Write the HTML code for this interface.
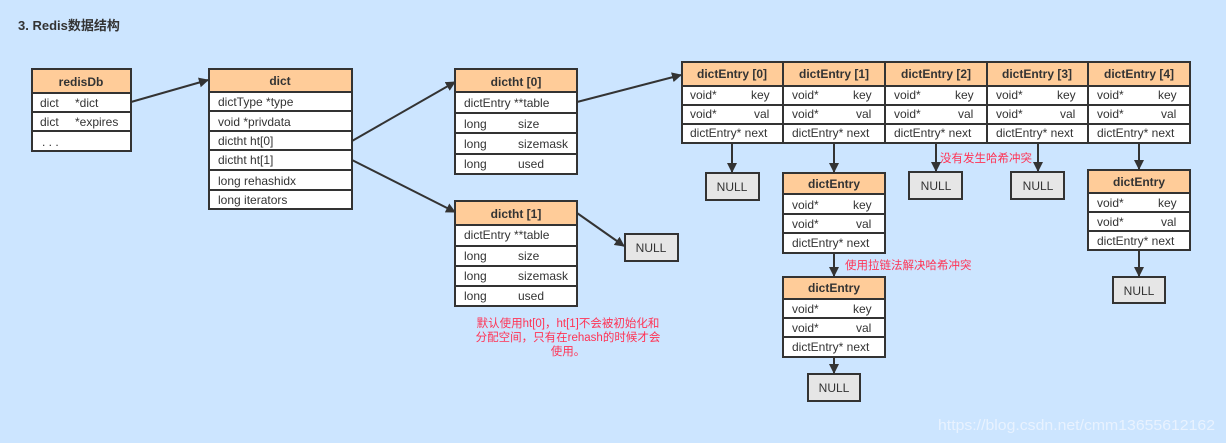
<!DOCTYPE html>
<html><head><meta charset="utf-8"><style>
html,body{margin:0;padding:0;background:#cce5ff;}
svg{display:block;font-family:"Liberation Sans","Noto Sans CJK SC",sans-serif;}
.b{fill:#fff;stroke:#333;stroke-width:2}
.h{fill:#ffcc99;stroke:#333;stroke-width:2}
.n{fill:#e6e6e6;stroke:#333;stroke-width:2}
.t{font-size:12px;fill:#333}
.hd{font-size:12px;font-weight:bold;fill:#333;text-anchor:middle}
.c{text-anchor:middle}
.l{stroke:#333;stroke-width:2;fill:none}
.r{fill:#ff3355;font-size:11.5px}
</style></head><body>
<svg width="1226" height="443" viewBox="0 0 1226 443">
<defs><marker id="a" markerWidth="10" markerHeight="10" refX="9" refY="5" orient="auto" markerUnits="userSpaceOnUse"><path d="M0,0 L10,5 L0,10 z" fill="#333"/></marker></defs>
<rect width="1226" height="443" fill="#cce5ff"/>
<text x="18" y="30" style="font-size:13px;font-weight:bold;fill:#333">3. Redis数据结构</text>

<!-- redisDb -->
<rect class="b" x="32" y="69" width="99" height="82"/>
<rect class="h" x="32" y="69" width="99" height="24"/>
<line class="l" x1="32" y1="112" x2="131" y2="112"/><line class="l" x1="32" y1="131" x2="131" y2="131"/>
<text class="hd" x="81" y="86">redisDb</text>
<text class="t" x="40" y="107">dict</text><text class="t" x="75" y="107">*dict</text>
<text class="t" x="40" y="126">dict</text><text class="t" x="75" y="126">*expires</text>
<text class="t" x="42" y="146">. . .</text>

<!-- dict -->
<rect class="b" x="209" y="69" width="143" height="140"/>
<rect class="h" x="209" y="69" width="143" height="23"/>
<line class="l" x1="209" y1="111" x2="352" y2="111"/><line class="l" x1="209" y1="131" x2="352" y2="131"/>
<line class="l" x1="209" y1="150" x2="352" y2="150"/><line class="l" x1="209" y1="170" x2="352" y2="170"/>
<line class="l" x1="209" y1="190" x2="352" y2="190"/>
<text class="hd" x="280" y="85">dict</text>
<text class="t" x="218" y="106">dictType *type</text>
<text class="t" x="218" y="126">void *privdata</text>
<text class="t" x="218" y="145">dictht ht[0]</text>
<text class="t" x="218" y="164">dictht ht[1]</text>
<text class="t" x="218" y="185">long rehashidx</text>
<text class="t" x="218" y="204">long iterators</text>

<!-- dictht0 -->
<rect class="b" x="455" y="69" width="122" height="105"/>
<rect class="h" x="455" y="69" width="122" height="23"/>
<line class="l" x1="455" y1="113" x2="577" y2="113"/><line class="l" x1="455" y1="133" x2="577" y2="133"/><line class="l" x1="455" y1="154" x2="577" y2="154"/>
<text class="hd" x="516" y="86">dictht [0]</text>
<text class="t" x="464" y="107">dictEntry **table</text>
<text class="t" x="464" y="128">long</text><text class="t" x="518" y="128">size</text>
<text class="t" x="464" y="148">long</text><text class="t" x="518" y="148">sizemask</text>
<text class="t" x="464" y="168">long</text><text class="t" x="518" y="168">used</text>

<!-- dictht1 -->
<rect class="b" x="455" y="201" width="122" height="105"/>
<rect class="h" x="455" y="201" width="122" height="24"/>
<line class="l" x1="455" y1="246" x2="577" y2="246"/><line class="l" x1="455" y1="266" x2="577" y2="266"/><line class="l" x1="455" y1="286" x2="577" y2="286"/>
<text class="hd" x="516" y="218">dictht [1]</text>
<text class="t" x="464" y="239">dictEntry **table</text>
<text class="t" x="464" y="260">long</text><text class="t" x="518" y="260">size</text>
<text class="t" x="464" y="280">long</text><text class="t" x="518" y="280">sizemask</text>
<text class="t" x="464" y="300">long</text><text class="t" x="518" y="300">used</text>

<rect class="n" x="625" y="234" width="53" height="27"/><text class="t c" x="651" y="252">NULL</text>

<text class="r c" x="568" y="327">默认使用ht[0]，ht[1]不会被初始化和</text>
<text class="r c" x="568" y="341">分配空间，只有在rehash的时候才会</text>
<text class="r c" x="568" y="355">使用。</text>

<!-- entries row -->
<g>
<rect class="b" x="682" y="62" width="508" height="81"/>
<rect class="h" x="682" y="62" width="508" height="24"/>
<line class="l" x1="682" y1="105" x2="1190" y2="105"/><line class="l" x1="682" y1="124" x2="1190" y2="124"/>
<line class="l" x1="783" y1="62" x2="783" y2="143"/><line class="l" x1="885" y1="62" x2="885" y2="143"/>
<line class="l" x1="987" y1="62" x2="987" y2="143"/><line class="l" x1="1088" y1="62" x2="1088" y2="143"/>
<text class="hd" x="732" y="78">dictEntry [0]</text><text class="hd" x="834" y="78">dictEntry [1]</text>
<text class="hd" x="936" y="78">dictEntry [2]</text><text class="hd" x="1037" y="78">dictEntry [3]</text>
<text class="hd" x="1139" y="78">dictEntry [4]</text>
</g>
<g class="t">
<text x="690" y="99">void*</text><text x="751" y="99">key</text><text x="690" y="118">void*</text><text x="754" y="118">val</text><text x="690" y="137">dictEntry* next</text>
<text x="792" y="99">void*</text><text x="853" y="99">key</text><text x="792" y="118">void*</text><text x="856" y="118">val</text><text x="792" y="137">dictEntry* next</text>
<text x="894" y="99">void*</text><text x="955" y="99">key</text><text x="894" y="118">void*</text><text x="958" y="118">val</text><text x="894" y="137">dictEntry* next</text>
<text x="996" y="99">void*</text><text x="1057" y="99">key</text><text x="996" y="118">void*</text><text x="1060" y="118">val</text><text x="996" y="137">dictEntry* next</text>
<text x="1097" y="99">void*</text><text x="1158" y="99">key</text><text x="1097" y="118">void*</text><text x="1161" y="118">val</text><text x="1097" y="137">dictEntry* next</text>
</g>

<rect class="n" x="706" y="173" width="53" height="27"/><text class="t c" x="732" y="191">NULL</text>
<rect class="n" x="909" y="172" width="53" height="27"/><text class="t c" x="936" y="190">NULL</text>
<rect class="n" x="1011" y="172" width="53" height="27"/><text class="t c" x="1038" y="190">NULL</text>

<!-- chain entry 1 -->
<rect class="b" x="783" y="173" width="102" height="80"/><rect class="h" x="783" y="173" width="102" height="21"/>
<line class="l" x1="783" y1="214" x2="885" y2="214"/><line class="l" x1="783" y1="233" x2="885" y2="233"/>
<text class="hd" x="834" y="188">dictEntry</text>
<text class="t" x="792" y="209">void*</text><text class="t" x="853" y="209">key</text>
<text class="t" x="792" y="228">void*</text><text class="t" x="856" y="228">val</text>
<text class="t" x="792" y="247">dictEntry* next</text>

<rect class="b" x="783" y="277" width="102" height="80"/><rect class="h" x="783" y="277" width="102" height="22"/>
<line class="l" x1="783" y1="318" x2="885" y2="318"/><line class="l" x1="783" y1="337" x2="885" y2="337"/>
<text class="hd" x="834" y="292">dictEntry</text>
<text class="t" x="792" y="313">void*</text><text class="t" x="853" y="313">key</text>
<text class="t" x="792" y="332">void*</text><text class="t" x="856" y="332">val</text>
<text class="t" x="792" y="351">dictEntry* next</text>
<rect class="n" x="808" y="374" width="52" height="27"/><text class="t c" x="834" y="392">NULL</text>

<!-- chain entry 4 -->
<rect class="b" x="1088" y="170" width="102" height="80"/><rect class="h" x="1088" y="170" width="102" height="23"/>
<line class="l" x1="1088" y1="212" x2="1190" y2="212"/><line class="l" x1="1088" y1="231" x2="1190" y2="231"/>
<text class="hd" x="1139" y="186">dictEntry</text>
<text class="t" x="1097" y="207">void*</text><text class="t" x="1158" y="207">key</text>
<text class="t" x="1097" y="226">void*</text><text class="t" x="1161" y="226">val</text>
<text class="t" x="1097" y="245">dictEntry* next</text>
<rect class="n" x="1113" y="277" width="52" height="26"/><text class="t c" x="1139" y="295">NULL</text>

<text class="r" x="940" y="162">没有发生哈希冲突</text>
<text class="r" x="845" y="269">使用拉链法解决哈希冲突</text>

<!-- connectors -->
<g class="l" marker-end="url(#a)">
<line x1="131" y1="102" x2="208" y2="80"/>
<line x1="352" y1="141" x2="455" y2="82"/>
<line x1="352" y1="160" x2="455" y2="212"/>
<line x1="577" y1="102" x2="681" y2="75"/>
<line x1="577" y1="213" x2="624" y2="246"/>
<line x1="732" y1="143" x2="732" y2="172"/>
<line x1="834" y1="143" x2="834" y2="172"/>
<line x1="936" y1="143" x2="936" y2="171"/>
<line x1="1038" y1="143" x2="1038" y2="171"/>
<line x1="1139" y1="143" x2="1139" y2="169"/>
<line x1="834" y1="253" x2="834" y2="276"/>
<line x1="834" y1="357" x2="834" y2="373"/>
<line x1="1139" y1="250" x2="1139" y2="276"/>
</g>

<text x="938" y="430" textLength="277" lengthAdjust="spacingAndGlyphs" style="font-size:15px;fill:#e8f2ff">https://blog.csdn.net/cmm13655612162</text>
</svg>
</body></html>
